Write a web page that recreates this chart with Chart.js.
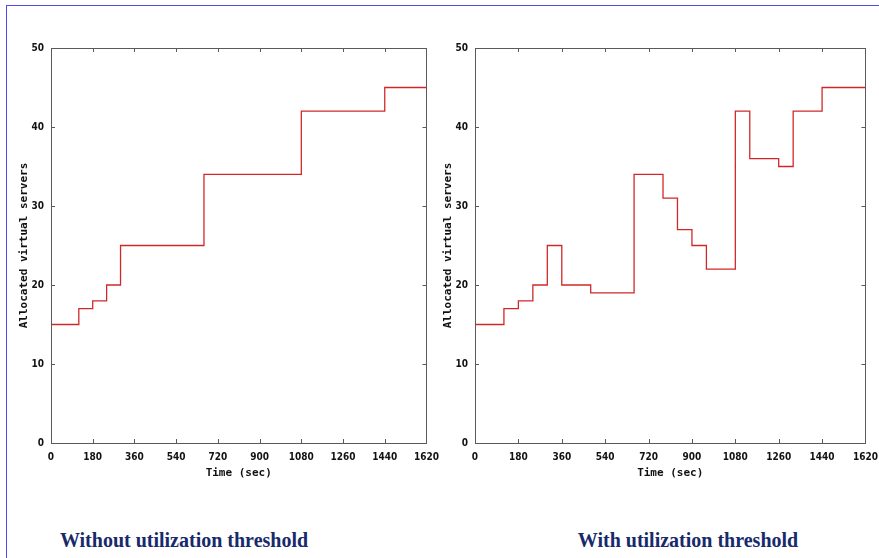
<!DOCTYPE html>
<html>
<head>
<meta charset="utf-8">
<script src="https://cdn.jsdelivr.net/npm/chart.js@4.4.1/dist/chart.umd.min.js"></script>
<style>
  html, body { margin: 0; padding: 0; background: #fff; }
  body { width: 879px; height: 558px; position: relative; overflow: hidden; }
  #frame { position: absolute; left: 6px; top: 5px; width: 873px; height: 553px;
           border-top: 1px solid #4b4bef; border-left: 1px solid #4b4bef; }
  .box { position: absolute; }
  .caption { position: absolute; top: 529px; font-family: "Liberation Serif", "Times New Roman", serif;
             font-weight: bold; font-size: 20px; color: #172a6b; white-space: nowrap;
             transform: translateX(-50%); }
</style>
</head>
<body>
<div id="frame"></div>
<div class="box" style="left:8px; top:30px; width:439px; height:460px;"><canvas id="leftChart"></canvas></div>
<div class="box" style="left:432px; top:30px; width:454px; height:460px;"><canvas id="rightChart"></canvas></div>
<div class="caption" style="left:184px;">Without utilization threshold</div>
<div class="caption" style="left:688px;">With utilization threshold</div>

<script>
// Data

const xTickLabels = [0, 180, 360, 540, 720, 900, 1080, 1260, 1440, 1620];
const yTickLabels = [0, 10, 20, 30, 40, 50];

// Without utilization threshold (time each level starts, level)
const noThresholdTimes = [0, 120, 180, 240, 300, 660, 1080, 1440, 1620];
const noThresholdServers = [15, 17, 18, 20, 25, 34, 42, 45, 45];

// With utilization threshold
const thresholdTimes = [0, 120, 180, 240, 300, 360, 480, 660, 780, 840, 900, 960, 1080, 1140, 1260, 1320, 1440, 1620];
const thresholdServers = [15, 17, 18, 20, 25, 20, 19, 34, 31, 27, 25, 22, 42, 36, 35, 42, 45, 45];

const tickFont = { family: "'Liberation Sans Narrow', 'DejaVu Sans Condensed', sans-serif", size: 10, weight: "bold" };
const titleFont = { family: "'DejaVu Sans Mono', monospace", size: 11, weight: "bold" };

// gnuplot style frame with inward ticks on all four sides
const framePlugin = {
    id: "frame",
    afterDraw(chart) {
        const c = chart.ctx;
        const a = chart.chartArea;
        const xs = chart.scales.x;
        const ys = chart.scales.y;
        c.save();
        c.strokeStyle = "#5a5a5a";
        c.lineWidth = 1;
        c.strokeRect(Math.round(a.left) + 0.5, Math.round(a.top) + 0.5,
            Math.round(a.right - a.left), Math.round(a.bottom - a.top));
        c.beginPath();
        xs.ticks.forEach(t => {
            const px = Math.round(xs.getPixelForValue(t.value)) + 0.5;
            c.moveTo(px, a.bottom); c.lineTo(px, a.bottom - 4);
            c.moveTo(px, a.top); c.lineTo(px, a.top + 4);
        });
        ys.ticks.forEach(t => {
            const py = Math.round(ys.getPixelForValue(t.value)) + 0.5;
            c.moveTo(a.left, py); c.lineTo(a.left + 4, py);
            c.moveTo(a.right, py); c.lineTo(a.right - 4, py);
        });
        c.stroke();
        c.restore();
    }
};

function makeChart(id, times, servers, yWidth) {
    const points = times.map((t, i) => ({ x: t, y: servers[i] }));
    return new Chart(document.getElementById(id), {
        type: "line",
        data: {
            datasets: [{
                data: points,
                stepped: true,
                borderColor: "#d02828",
                borderWidth: 1.3,
                pointRadius: 0,
                fill: false
            }]
        },
        options: {
            responsive: true,
            maintainAspectRatio: false,
            animation: false,
            layout: { padding: { top: 18, right: 14, left: 0, bottom: 0 } },
            plugins: { legend: { display: false }, tooltip: { enabled: false } },
            scales: {
                x: {
                    type: "linear",
                    min: xTickLabels[0],
                    max: xTickLabels[xTickLabels.length - 1],
                    afterBuildTicks: s => { s.ticks = xTickLabels.map(v => ({ value: v })); },
                    afterFit: s => { s.height = 47; },
                    grid: { display: false, drawTicks: false },
                    border: { display: false },
                    ticks: { padding: 8, color: "#111", font: tickFont, maxRotation: 0,
                             callback: v => String(v) },
                    title: { display: true, text: "Time (sec)", color: "#111", font: titleFont, padding: { top: 0, bottom: 10 } }
                },
                y: {
                    min: yTickLabels[0],
                    max: yTickLabels[yTickLabels.length - 1],
                    afterBuildTicks: s => { s.ticks = yTickLabels.map(v => ({ value: v })); },
                    afterFit: s => { s.width = yWidth; },
                    grid: { display: false, drawTicks: false },
                    border: { display: false },
                    ticks: { padding: 7, color: "#111", font: tickFont, callback: v => String(v) },
                    title: { display: true, text: "Allocated virtual servers", color: "#111", font: titleFont, padding: { top: 10, bottom: 0 } }
                }
            }
        },
        plugins: [framePlugin]
    });
}

makeChart("leftChart", noThresholdTimes, noThresholdServers, 43);
makeChart("rightChart", thresholdTimes, thresholdServers, 43);
</script>
</body>
</html>
